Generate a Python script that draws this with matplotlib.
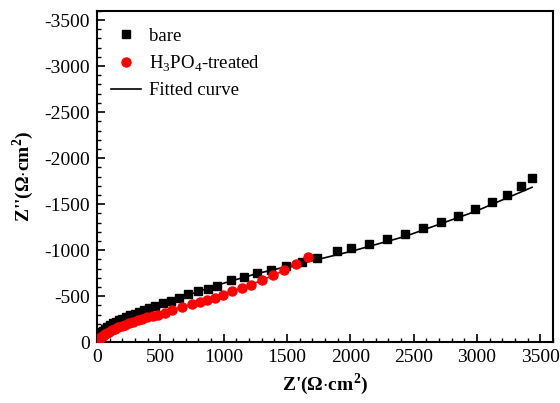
import numpy as np
import matplotlib
matplotlib.use('Agg')
import matplotlib.pyplot as plt
from matplotlib.ticker import MultipleLocator

plt.rcParams['font.family'] = 'Liberation Serif'
plt.rcParams['mathtext.fontset'] = 'custom'
plt.rcParams['mathtext.rm'] = 'Liberation Serif'
plt.rcParams['mathtext.bf'] = 'Liberation Serif:bold'
plt.rcParams['axes.unicode_minus'] = False

# --- Data ---
bare_x = [5, 12, 22, 34, 48, 64, 82, 102, 124, 148, 174, 202, 232, 264, 298, 334, 372, 414,
          459, 520, 583, 648, 717, 795, 877, 950, 1060, 1160, 1265, 1375, 1493, 1617, 1737,
          1892, 2005, 2144, 2286, 2430, 2572, 2717, 2853, 2984, 3115, 3234, 3344, 3433]
bare_y = [-45, -65, -85, -105, -125, -145, -165, -185, -203, -220, -238, -255, -272, -290,
          -310, -330, -350, -370, -392, -422, -444, -477, -520, -560, -582, -615, -675, -710,
          -748, -785, -827, -866, -915, -986, -1018, -1065, -1116, -1177, -1238, -1304, -1372,
          -1444, -1520, -1600, -1693, -1780]

treated_x = [3, 8, 15, 24, 35, 48, 63, 80, 99, 120, 143, 168, 195, 224, 255, 288, 323, 360,
             399, 440, 485, 535, 590, 669, 753, 811, 868, 929, 994, 1065, 1144, 1218, 1301,
             1388, 1480, 1571, 1669]
treated_y = [-5, -15, -28, -42, -56, -70, -85, -100, -115, -130, -145, -160, -175, -190, -205,
             -220, -236, -252, -268, -283, -300, -322, -352, -383, -419, -437, -463, -484, -516,
             -556, -588, -625, -672, -726, -780, -845, -924]

# fitted curves
fit_bare_x = [0, 50, 150, 300, 460, 650, 800, 1000, 1250, 1500, 1735, 2005, 2430, 2984, 3435]
fit_bare_y = [-40, -125, -220, -310, -390, -478, -550, -640, -740, -822, -896, -986, -1148,
              -1419, -1683]
fit_treated_x = [0, 50, 150, 300, 460, 600, 800, 1000, 1200, 1400, 1550, 1669]
fit_treated_y = [-3, -58, -150, -225, -292, -352, -433, -520, -615, -730, -830, -924]

fig = plt.figure(figsize=(5.6, 4.03), dpi=100)
ax = fig.add_axes([0.173, 0.151, 0.8145, 0.822])

ax.plot(fit_bare_x, fit_bare_y, color='black', linewidth=1.2, label='Fitted curve', zorder=2)
ax.plot(fit_treated_x, fit_treated_y, color='red', linewidth=1.2, zorder=2)
ax.plot(bare_x, bare_y, linestyle='none', marker='s', markersize=5.5, color='black',
        label='bare', zorder=3)
ax.plot(treated_x, treated_y, linestyle='none', marker='o', markersize=6.5, color='red',
        label='H$_3$PO$_4$-treated', zorder=3)

ax.set_xlim(0, 3600)
ax.set_ylim(0, -3600)
ax.xaxis.set_major_locator(MultipleLocator(500))
ax.xaxis.set_minor_locator(MultipleLocator(100))
ax.yaxis.set_major_locator(MultipleLocator(500))
ax.yaxis.set_minor_locator(MultipleLocator(100))
ax.tick_params(which='both', direction='in', top=False, right=False, labelsize=14)
ax.tick_params(which='major', length=6, width=1.2, pad=5)
ax.tick_params(which='minor', length=3, width=1.0)
for s in ax.spines.values():
    s.set_linewidth(1.5)

ax.set_xlabel("Z'($\\mathbf{\\Omega}$$\\cdot$cm$^\\mathbf{2}$)", fontsize=14, fontweight='bold')
ax.set_ylabel("Z''($\\mathbf{\\Omega}$$\\cdot$cm$^\\mathbf{2}$)", fontsize=14, fontweight='bold',
              labelpad=6)

handles, labels = ax.get_legend_handles_labels()
order = [1, 2, 0]
ax.legend([handles[i] for i in order], [labels[i] for i in order], loc='upper left',
          frameon=False, fontsize=13.5, handlelength=1.6, handletextpad=0.4,
          labelspacing=0.45, bbox_to_anchor=(-0.005, 1.0))

fig.savefig('out.png', dpi=100)
